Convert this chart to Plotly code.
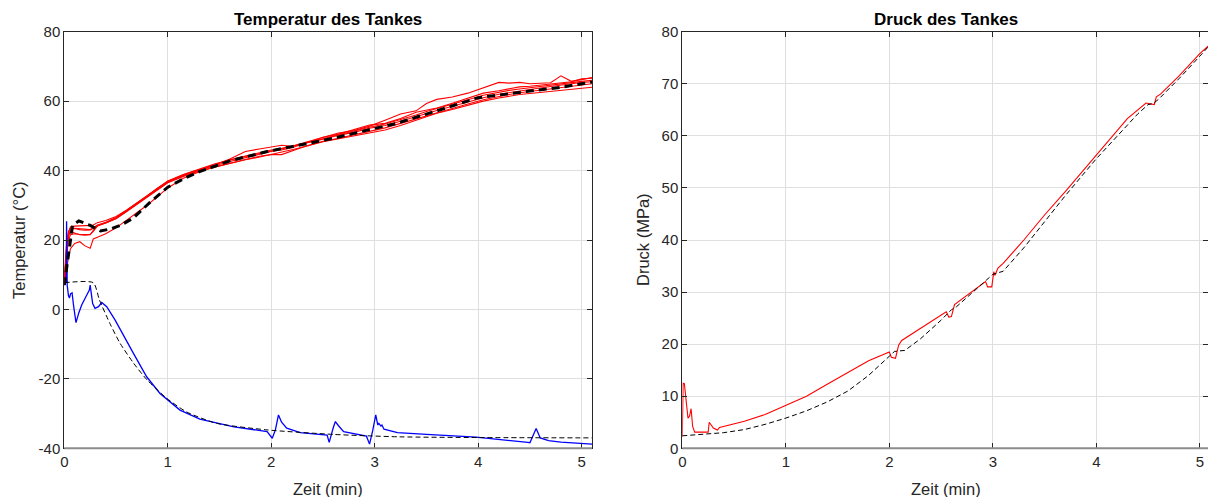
import plotly.graph_objects as go

# ---------------- data: tank temperature (left) ----------------
t_red = [0, 0.02, 0.04, 0.06, 0.1, 0.15, 0.2, 0.25, 0.28, 0.32, 0.4, 0.5, 0.6, 0.7, 0.8,
         0.9, 1.0, 1.15, 1.3, 1.45, 1.6, 1.75, 1.9, 2.0, 2.1, 2.2, 2.35, 2.5, 2.65, 2.8,
         2.95, 3.1, 3.25, 3.4, 3.5, 3.6, 3.75, 3.9, 4.05, 4.2, 4.3, 4.4, 4.5, 4.6, 4.7,
         4.8, 4.9, 5.0, 5.1]

T_red_1 = [8, 17, 22, 23.8, 24, 24, 24, 24.2, 24.3, 25, 25.6, 26.8, 28.6, 30.6, 32.7,
           34.9, 36.8, 38.8, 40.3, 41.7, 43.1, 44.2, 45.3, 45.9, 46.4, 47.0, 48.3, 49.5, 50.8, 51.5,
           52.8, 54.5, 56.3, 57.2, 59.3, 60.5, 61.2, 62.3, 63.8, 65.4, 65.2, 65.4, 65.0, 65.2, 65.3,
           67.3, 65.7, 66.2, 66.8]
T_red_2 = [9, 15, 20, 21.5, 21.8, 21.6, 21.5, 21.6, 22.5, 24, 24.9, 26.2, 28.3, 30.5, 32.7,
           34.9, 36.9, 38.6, 40.1, 41.4, 42.6, 43.7, 44.9, 45.5, 46.2, 46.9, 48.0, 49.3, 50.3, 51.3,
           52.5, 53.4, 54.6, 56.0, 57.0, 57.9, 59.2, 60.4, 61.7, 62.6, 63.1, 63.5, 63.9, 64.2, 64.6,
           65.0, 65.3, 65.7, 66.0]
T_red_3 = [7, 11, 15, 17.5, 19, 19.5, 18.3, 17.6, 20.3, 20.8, 21.8, 23.5, 25.7, 27.8, 30.0,
           32.5, 35.0, 37.8, 39.6, 41.0, 42.2, 43.2, 44.2, 44.6, 44.6, 45.6, 47.2, 48.3, 49.2, 50.1,
           50.8, 51.7, 53.0, 54.5, 55.5, 56.5, 57.6, 58.8, 60.0, 60.9, 61.5, 61.9, 62.2, 62.5, 62.8,
           63.1, 63.4, 63.7, 64.0]
T_red_4 = [9, 16, 21.5, 23, 23.3, 23, 22.8, 22.9, 23.5, 24.3, 25.0, 26.3, 28.3, 30.4, 32.5,
           34.6, 36.6, 38.5, 40.0, 41.6, 43.3, 45.5, 46.3, 46.9, 47.3, 47.0, 47.9, 49.0, 50.2, 51.0,
           52.2, 53.0, 54.2, 55.6, 56.4, 57.3, 58.5, 59.8, 61.0, 62.0, 62.5, 63.0, 63.4, 63.8, 64.2,
           64.7, 65.0, 65.4, 65.6]
T_red_5 = [10, 18, 22.5, 23.5, 23.4, 23.2, 23.0, 23.0, 23.4, 24.2, 24.9, 26.1, 28.1, 30.2, 32.3,
           34.5, 36.5, 38.3, 39.8, 41.0, 42.1, 43.1, 44.0, 44.6, 45.2, 46.0, 47.1, 48.4, 49.3, 50.4,
           51.3, 52.3, 53.6, 55.0, 55.9, 56.8, 58.0, 59.2, 60.4, 61.4, 61.9, 62.4, 62.8, 63.2, 63.6,
           64.0, 64.3, 64.7, 65.0]
T_red_6 = [8, 16, 21, 22.5, 22.0, 21.5, 21.4, 21.5, 22.8, 24.1, 25.1, 26.5, 28.5, 30.6, 32.8,
           35.0, 37.0, 38.9, 40.4, 41.9, 43.0, 44.1, 45.0, 45.6, 45.9, 46.6, 48.0, 49.6, 50.5, 51.8,
           53.1, 53.6, 55.0, 56.8, 57.3, 58.0, 59.4, 60.9, 62.3, 63.0, 63.6, 64.1, 64.3, 64.6, 64.9,
           65.4, 65.6, 66.4, 66.6]
T_red_all = [T_red_1, T_red_2, T_red_3, T_red_4, T_red_5, T_red_6]

# simulated tank temperature (thick dashed)
t_sim_tank = [0, 0.04, 0.08, 0.14, 0.25, 0.35, 0.45, 0.55, 0.67, 0.83, 1.0, 1.15, 1.3, 1.6, 1.95,
              2.2, 2.6, 2.95, 3.2, 3.6, 4.0, 4.5, 4.8, 5.1]
T_sim_tank = [7, 16, 24.3, 25.5, 24.2, 22.6, 23.2, 24.3, 26.4, 30.9, 35.2, 37.6, 39.6, 42.8, 45.4,
              46.9, 49.3, 51.8, 53.5, 57.2, 61.0, 62.9, 64.0, 65.5]

# gas inlet temperature (blue) and its simulation (thin dashed)
t_in = [0, 0.018, 0.022, 0.028, 0.04, 0.05, 0.06, 0.075, 0.09, 0.113, 0.14, 0.168, 0.216,
        0.242, 0.25, 0.274, 0.297, 0.33, 0.362, 0.41, 0.49, 0.586, 0.667, 0.796, 0.925,
        1.118, 1.31, 1.64, 1.96, 2.01, 2.04, 2.07, 2.1, 2.15, 2.28, 2.54, 2.56, 2.6, 2.62,
        2.65, 2.7, 2.92, 2.95, 2.98, 3.01, 3.03, 3.04, 3.06, 3.07, 3.09, 3.22, 3.5, 3.98,
        4.48, 4.5, 4.56, 4.6, 4.68, 4.8, 5.1]
T_in = [7, 8, 25.4, 7, 4, 3.3, 4.5, 4.8, 1, -3.8, -1, 1.3, 4.1,
        5.6, 7, 1.7, 0.3, 0.8, 2, 0.8, -3, -8.3, -12.6, -19.4, -24.2,
        -29, -31.6, -33.8, -35.2, -37.1, -34.7, -30.4, -32.5, -34.2, -35.5, -36.2, -38.3, -34, -32.3,
        -33.5, -35.2, -36.5, -38.8, -35, -30.4, -33.3, -32.8, -33.6, -33.3, -34.5, -35.5, -36, -36.8,
        -38.3, -38.4, -34.3, -37, -37.8, -38.2, -38.8]

t_sim_in = [0, 0.28, 0.34, 0.44, 0.54, 0.67, 0.8, 0.99, 1.18, 1.47, 1.96, 2.6, 3.24, 4.0, 5.1]
T_sim_in = [7.7, 7.7, 2.7, -4, -9.8, -15.5, -20.3, -25.6, -29.5, -32.8, -34.7, -36, -36.7, -36.9, -37]

# ---------------- data: tank pressure (right) ----------------
t_p = [0, 0.008, 0.02, 0.055, 0.07, 0.085, 0.1, 0.12, 0.25, 0.26, 0.3, 0.34, 0.36, 0.4, 0.6,
       0.8, 1.0, 1.2, 1.4, 1.6, 1.7, 1.8, 2.0, 2.02, 2.06, 2.09, 2.12, 2.3, 2.55, 2.575, 2.6, 2.63,
       2.8, 2.93, 2.95, 2.99, 3.01, 3.02, 3.05, 3.1, 3.3, 3.5, 3.7, 3.9, 4.0, 4.16, 4.3, 4.48,
       4.56, 4.58, 4.62, 4.8, 5.0, 5.1]
P_meas = [2.2, 12.5, 12.4, 5.8, 6.2, 7.6, 4.2, 3.1, 3.1, 5.0, 3.9, 3.5, 4.0, 4.2, 5.2,
          6.5, 8.2, 10.0, 12.3, 14.6, 15.8, 16.8, 18.5, 17.5, 17.3, 19.8, 20.7, 23.0, 26.2, 25.2, 25.3, 27.6,
          30.0, 32.0, 31.0, 31.0, 33.9, 33.2, 34.6, 35.5, 40.0, 44.8, 49.3, 54.0, 56.4, 60.2, 63.3, 66.3,
          66.0, 67.5, 68.0, 71.5, 75.8, 77.6]

t_p_sim = [0, 0.2, 0.4, 0.6, 0.8, 1.0, 1.2, 1.4, 1.6, 1.8, 2.0, 2.05, 2.15, 2.3, 2.5, 2.6, 2.65,
           2.8, 3.0, 3.1, 3.3, 3.5, 3.7, 4.0, 4.2, 4.4, 4.5, 4.55, 4.6, 4.8, 5.0, 5.1]
P_sim = [2.4, 2.7, 3.0, 3.6, 4.6, 5.8, 7.2, 8.9, 11.0, 14.0, 17.8, 18.6, 18.8, 21.0, 24.6, 26.6, 27.2,
         29.8, 33.4, 34.0, 38.5, 43.5, 48.5, 55.6, 60.0, 64.2, 66.0, 66.2, 67.0, 71.0, 75.3, 77.5]

x_ticks = [0, 1, 2, 3, 4, 5]
T_ticks = [-40, -20, 0, 20, 40, 60, 80]
P_ticks = [0, 10, 20, 30, 40, 50, 60, 70, 80]

# ---------------- figure ----------------
W, H = 1208, 497
fig = go.Figure()

for T in T_red_all:
    fig.add_trace(go.Scatter(x=t_red, y=T, mode="lines", line=dict(color="#ff0000", width=1.1),
                             xaxis="x", yaxis="y", showlegend=False, hoverinfo="skip"))
fig.add_trace(go.Scatter(x=t_in, y=T_in, mode="lines", line=dict(color="#0000ff", width=1.3),
                         xaxis="x", yaxis="y", showlegend=False))
fig.add_trace(go.Scatter(x=t_sim_in, y=T_sim_in, mode="lines",
                         line=dict(color="#000000", width=1, dash="5px,3px", shape="spline", smoothing=0.6),
                         xaxis="x", yaxis="y", showlegend=False))
fig.add_trace(go.Scatter(x=t_sim_tank, y=T_sim_tank, mode="lines",
                         line=dict(color="#000000", width=3, dash="8px,5px"),
                         xaxis="x", yaxis="y", showlegend=False))

fig.add_trace(go.Scatter(x=t_p, y=P_meas, mode="lines", line=dict(color="#ff0000", width=1.1),
                         xaxis="x2", yaxis="y2", showlegend=False))
fig.add_trace(go.Scatter(x=t_p_sim, y=P_sim, mode="lines",
                         line=dict(color="#000000", width=1, dash="5px,3px"),
                         xaxis="x2", yaxis="y2", showlegend=False))

top_px, bot_px = 31.7, 448.3
y_dom = [1 - bot_px / H, 1 - top_px / H]
x1_dom = [64.3 / W, 592.0 / W]
x2_dom = [682.3 / W, 1.0]

tickfont = dict(family="Liberation Sans, Arial, sans-serif", size=15, color="#262626")
axis_common = dict(showgrid=True, gridcolor="#dfdfdf", gridwidth=1, zeroline=False,
                   showline=True, linecolor="#262626", linewidth=1, mirror="ticks",
                   ticks="inside", ticklen=5, tickcolor="#262626", tickfont=tickfont,
                   automargin=False)

fig.update_layout(
    width=W, height=H,
    margin=dict(l=0, r=0, t=0, b=0, pad=0),
    paper_bgcolor="white", plot_bgcolor="white",
    xaxis=dict(domain=x1_dom, range=[0, 5.1], tickvals=x_ticks, ticktext=[str(v) for v in x_ticks],
               anchor="y", **axis_common),
    yaxis=dict(domain=y_dom, range=[-40, 80], tickvals=T_ticks, ticktext=[str(v) for v in T_ticks],
               anchor="x", **axis_common),
    xaxis2=dict(domain=x2_dom, range=[0, (1208 - 682.3) / 103.5], tickvals=x_ticks,
                ticktext=[str(v) for v in x_ticks], anchor="y2", **axis_common),
    yaxis2=dict(domain=y_dom, range=[0, 80], tickvals=P_ticks, ticktext=[str(v) for v in P_ticks],
                anchor="x2", **axis_common),
)

# gray bottom axis lines (as in the reference)
for xr, yr in (("x domain", "y domain"), ("x2 domain", "y2 domain")):
    fig.add_shape(type="line", xref=xr, yref=yr, x0=0, x1=1, y0=0, y1=0,
                  line=dict(color="#8c8c8c", width=2), layer="above")

lab_font = dict(family="Liberation Sans, Arial, sans-serif", size=16.5, color="#262626")
tit_font = dict(family="Liberation Sans, Arial, sans-serif", size=17, color="#000000")
cx1 = (x1_dom[0] + x1_dom[1]) / 2
cx2 = (682.3 / W + 1210 / W) / 2
ymid = 1 - 240 / H
fig.add_annotation(text="<b>Temperatur des Tankes</b>", x=cx1, y=1 - 19 / H, xref="paper", yref="paper",
                   showarrow=False, xanchor="center", yanchor="middle", font=tit_font)
fig.add_annotation(text="<b>Druck des Tankes</b>", x=cx2, y=1 - 19 / H, xref="paper", yref="paper",
                   showarrow=False, xanchor="center", yanchor="middle", font=tit_font)
fig.add_annotation(text="Zeit (min)", x=cx1, y=1 - 489 / H, xref="paper", yref="paper",
                   showarrow=False, xanchor="center", yanchor="middle", font=lab_font)
fig.add_annotation(text="Zeit (min)", x=cx2, y=1 - 489 / H, xref="paper", yref="paper",
                   showarrow=False, xanchor="center", yanchor="middle", font=lab_font)
fig.add_annotation(text="Temperatur (°C)", x=19 / W, y=ymid, xref="paper", yref="paper", textangle=-90,
                   showarrow=False, xanchor="center", yanchor="middle", font=lab_font)
fig.add_annotation(text="Druck (MPa)", x=643 / W, y=ymid, xref="paper", yref="paper", textangle=-90,
                   showarrow=False, xanchor="center", yanchor="middle", font=lab_font)

fig.write_html("out.html")
